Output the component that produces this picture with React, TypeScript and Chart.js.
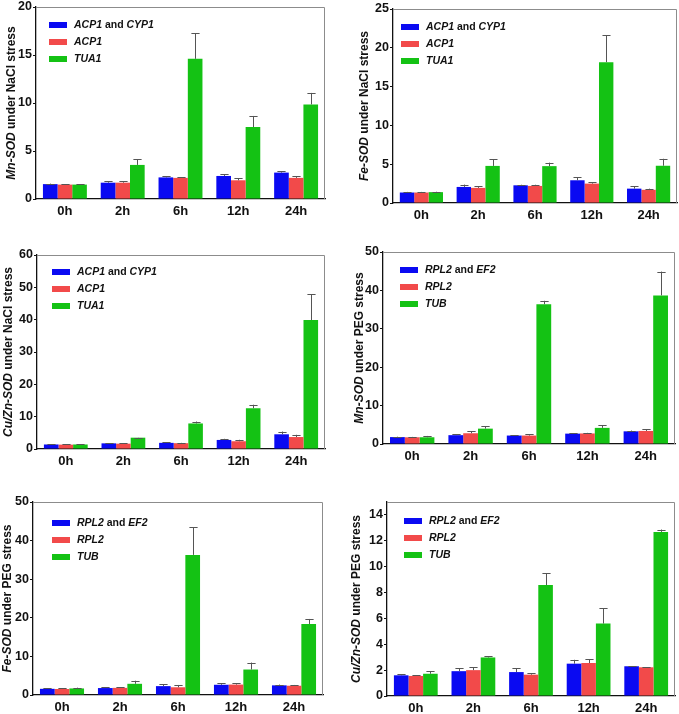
import React, { useEffect, useRef } from "react";
import { Chart, registerables } from "chart.js";
Chart.register(...registerables);

const timePoints = ["0h", "2h", "6h", "12h", "24h"];

// Panel A: Mn-SOD under NaCl stress
const mnNaClBoth = [1.55, 1.7, 2.25, 2.4, 2.75];
const mnNaClBothErr = [0.05, 0.15, 0.1, 0.2, 0.12];
const mnNaClACP1 = [1.5, 1.7, 2.2, 1.95, 2.2];
const mnNaClACP1Err = [0.04, 0.15, 0.06, 0.2, 0.15];
const mnNaClTUA1 = [1.5, 3.55, 14.6, 7.5, 9.85];
const mnNaClTUA1Err = [0.02, 0.6, 2.65, 1.15, 1.2];

// Panel B: Fe-SOD under NaCl stress
const feNaClBoth = [1.35, 2.07, 2.28, 2.93, 1.85];
const feNaClBothErr = [0.08, 0.3, 0.07, 0.4, 0.3];
const feNaClACP1 = [1.35, 1.95, 2.2, 2.5, 1.7];
const feNaClACP1Err = [0.08, 0.2, 0.15, 0.15, 0.15];
const feNaClTUA1 = [1.4, 4.78, 4.75, 18.15, 4.8];
const feNaClTUA1Err = [0.05, 0.87, 0.45, 3.45, 0.9];

// Panel C: Cu/Zn-SOD under NaCl stress
const cuNaClBoth = [1.4, 1.75, 1.9, 2.8, 4.55];
const cuNaClBothErr = [0.1, 0.1, 0.15, 0.35, 0.85];
const cuNaClACP1 = [1.35, 1.65, 1.8, 2.4, 3.7];
const cuNaClACP1Err = [0.1, 0.1, 0.1, 0.45, 0.7];
const cuNaClTUA1 = [1.4, 3.5, 7.9, 12.6, 39.9];
const cuNaClTUA1Err = [0.05, 0.05, 0.6, 1.1, 8.0];

// Panel D: Mn-SOD under PEG stress
const mnPEGBoth = [1.8, 2.3, 2.2, 2.7, 3.3];
const mnPEGBothErr = [0.1, 0.3, 0.1, 0.1, 0.2];
const mnPEGRPL2 = [1.75, 2.8, 2.2, 2.75, 3.4];
const mnPEGRPL2Err = [0.1, 0.5, 0.4, 0.15, 0.4];
const mnPEGTUB = [1.75, 4.0, 36.4, 4.2, 38.7];
const mnPEGTUBErr = [0.35, 0.6, 0.9, 0.7, 6.2];

// Panel E: Fe-SOD under PEG stress
const fePEGBoth = [1.6, 1.8, 2.3, 2.65, 2.5];
const fePEGBothErr = [0.15, 0.15, 0.5, 0.45, 0.2];
const fePEGRPL2 = [1.55, 1.85, 2.0, 2.7, 2.4];
const fePEGRPL2Err = [0.15, 0.2, 0.6, 0.4, 0.2];
const fePEGTUB = [1.7, 2.9, 36.3, 6.6, 18.4];
const fePEGTUBErr = [0.2, 0.8, 7.2, 1.8, 1.3];

// Panel F: Cu/Zn-SOD under PEG stress
const cuPEGBoth = [1.6, 1.92, 1.85, 2.5, 2.3];
const cuPEGBothErr = [0.08, 0.23, 0.3, 0.3, 0.02];
const cuPEGRPL2 = [1.55, 2.0, 1.65, 2.55, 2.22];
const cuPEGRPL2Err = [0.07, 0.22, 0.1, 0.3, 0.02];
const cuPEGTUB = [1.72, 2.98, 8.58, 5.6, 12.69];
const cuPEGTUBErr = [0.2, 0.1, 0.9, 1.17, 0.18];

const FONT = "'Liberation Sans', Arial, Helvetica, sans-serif";
const COLORS = ["#0a0af2", "#f24a4a", "#14c214"];

type Seg = { t: string; i: boolean };

const naclLegend: Seg[][] = [
  [{ t: "ACP1", i: true }, { t: " and ", i: false }, { t: "CYP1", i: true }],
  [{ t: "ACP1", i: true }],
  [{ t: "TUA1", i: true }],
];
const pegLegend: Seg[][] = [
  [{ t: "RPL2", i: true }, { t: " and ", i: false }, { t: "EF2", i: true }],
  [{ t: "RPL2", i: true }],
  [{ t: "TUB", i: true }],
];

type PanelCfg = {
  left: number; top: number; w: number; h: number;
  yW: number; xH: number; padTop: number; padRight: number;
  max: number; step: number;
  title: Seg[]; titleX: number;
  legend: Seg[][]; legDx: number; legDy: number;
  values: number[][]; errors: number[][];
};

const panels: PanelCfg[] = [
  {
    left: 0, top: 0, w: 340, h: 228, yW: 36, xH: 29, padTop: 7, padRight: 15,
    max: 20, step: 5,
    title: [{ t: "Mn-SOD", i: true }, { t: " under NaCl stress", i: false }], titleX: 12,
    legend: naclLegend, legDx: 13, legDy: 18,
    values: [mnNaClBoth, mnNaClACP1, mnNaClTUA1], errors: [mnNaClBothErr, mnNaClACP1Err, mnNaClTUA1Err],
  },
  {
    left: 340, top: 0, w: 339, h: 228, yW: 53, xH: 25, padTop: 9, padRight: 2,
    max: 25, step: 5,
    title: [{ t: "Fe-SOD", i: true }, { t: " under NaCl stress", i: false }], titleX: 25,
    legend: naclLegend, legDx: 8, legDy: 18,
    values: [feNaClBoth, feNaClACP1, feNaClTUA1], errors: [feNaClBothErr, feNaClACP1Err, feNaClTUA1Err],
  },
  {
    left: 0, top: 228, w: 340, h: 242, yW: 37, xH: 21, padTop: 27, padRight: 15,
    max: 60, step: 10,
    title: [{ t: "Cu/Zn-SOD", i: true }, { t: " under NaCl stress", i: false }], titleX: 9,
    legend: naclLegend, legDx: 15, legDy: 17,
    values: [cuNaClBoth, cuNaClACP1, cuNaClTUA1], errors: [cuNaClBothErr, cuNaClACP1Err, cuNaClTUA1Err],
  },
  {
    left: 340, top: 228, w: 339, h: 242, yW: 43, xH: 26, padTop: 24, padRight: 4,
    max: 50, step: 10,
    title: [{ t: "Mn-SOD", i: true }, { t: " under PEG stress", i: false }], titleX: 20,
    legend: pegLegend, legDx: 17, legDy: 18,
    values: [mnPEGBoth, mnPEGRPL2, mnPEGTUB], errors: [mnPEGBothErr, mnPEGRPL2Err, mnPEGTUBErr],
  },
  {
    left: 0, top: 470, w: 340, h: 244, yW: 33, xH: 19, padTop: 32, padRight: 17,
    max: 50, step: 10,
    title: [{ t: "Fe-SOD", i: true }, { t: " under PEG stress", i: false }], titleX: 8,
    legend: pegLegend, legDx: 19, legDy: 21,
    values: [fePEGBoth, fePEGRPL2, fePEGTUB], errors: [fePEGBothErr, fePEGRPL2Err, fePEGTUBErr],
  },
  {
    left: 340, top: 470, w: 339, h: 244, yW: 47, xH: 18, padTop: 32, padRight: 4,
    max: 15, step: 2,
    title: [{ t: "Cu/Zn-SOD", i: true }, { t: " under PEG stress", i: false }], titleX: 17,
    legend: pegLegend, legDx: 17, legDy: 19,
    values: [cuPEGBoth, cuPEGRPL2, cuPEGTUB], errors: [cuPEGBothErr, cuPEGRPL2Err, cuPEGTUBErr],
  },
];

function fontFor(s: Seg, size: number) {
  return `${s.i ? "italic " : ""}bold ${size}px ${FONT}`;
}

function drawSegs(ctx: CanvasRenderingContext2D, segs: Seg[], x: number, y: number, size: number, center: boolean) {
  const ws = segs.map((s) => {
    ctx.font = fontFor(s, size);
    return ctx.measureText(s.t).width;
  });
  const total = ws.reduce((a, b) => a + b, 0);
  let cx = center ? x - total / 2 : x;
  ctx.textAlign = "left";
  ctx.textBaseline = "middle";
  segs.forEach((s, k) => {
    ctx.font = fontFor(s, size);
    ctx.fillText(s.t, cx, y);
    cx += ws[k];
  });
}

function makeDecor(p: PanelCfg) {
  return {
    id: "decor",
    beforeDatasetsDraw(chart: any) {
      const { ctx, chartArea } = chart;
      ctx.save();
      ctx.strokeStyle = "#8c8c8c";
      ctx.lineWidth = 1;
      ctx.beginPath();
      ctx.moveTo(chartArea.left, chartArea.top + 0.5);
      ctx.lineTo(chartArea.right - 0.5, chartArea.top + 0.5);
      ctx.lineTo(chartArea.right - 0.5, chartArea.bottom);
      ctx.stroke();
      ctx.restore();
    },
    afterDatasetsDraw(chart: any) {
      const { ctx } = chart;
      const yScale = chart.scales.y;
      ctx.save();
      ctx.strokeStyle = "#555";
      ctx.lineWidth = 1;
      chart.data.datasets.forEach((ds: any, di: number) => {
        const meta = chart.getDatasetMeta(di);
        const errs = p.errors[di];
        meta.data.forEach((el: any, i: number) => {
          const v = p.values[di][i];
          const e = errs[i];
          const yTop = yScale.getPixelForValue(v + e);
          const yBar = yScale.getPixelForValue(v);
          const x = Math.round(el.x) + 0.5;
          const cap = el.width * 0.28;
          ctx.beginPath();
          ctx.moveTo(x, yBar);
          ctx.lineTo(x, yTop);
          ctx.moveTo(x - cap, Math.round(yTop) + 0.5);
          ctx.lineTo(x + cap, Math.round(yTop) + 0.5);
          ctx.stroke();
        });
      });
      ctx.restore();
    },
    afterDraw(chart: any) {
      const { ctx, chartArea } = chart;
      ctx.save();
      ctx.fillStyle = "#111";
      ctx.translate(p.titleX, (chartArea.top + chartArea.bottom) / 2);
      ctx.rotate(-Math.PI / 2);
      drawSegs(ctx, p.title, 0, 0, 12, true);
      ctx.restore();
      ctx.save();
      const bx = chartArea.left + p.legDx;
      p.legend.forEach((segs, k) => {
        const cy = chartArea.top + p.legDy + k * 17;
        ctx.fillStyle = COLORS[k];
        ctx.fillRect(bx, cy - 3, 18, 6);
        ctx.fillStyle = "#111";
        drawSegs(ctx, segs, bx + 25, cy, 10.5, false);
      });
      ctx.restore();
    },
  };
}

function Panel({ p }: { p: PanelCfg }) {
  const ref = useRef<HTMLCanvasElement | null>(null);
  useEffect(() => {
    if (!ref.current) return;
    const chart = new Chart(ref.current, {
      type: "bar",
      data: {
        labels: timePoints,
        datasets: p.values.map((vals, k) => ({
          label: p.legend[k].map((s) => s.t).join(""),
          data: vals,
          backgroundColor: COLORS[k],
          borderWidth: 0,
          categoryPercentage: 0.76,
          barPercentage: 1.0,
        })),
      },
      options: {
        responsive: false,
        animation: false,
        devicePixelRatio: 1,
        layout: { padding: { top: p.padTop, right: p.padRight, bottom: 0, left: 0 } },
        plugins: {
          legend: { display: false },
          tooltip: { enabled: false },
          title: { display: false },
        },
        scales: {
          x: {
            grid: { display: false, drawTicks: false, tickLength: 0 },
            border: { display: true, color: "#111", width: 1.3 },
            ticks: {
              color: "#111",
              font: { family: FONT, size: 13, weight: "bold" },
              padding: 5,
              maxRotation: 0,
              autoSkip: false,
            },
            afterFit: (s: any) => {
              s.height = p.xH;
              s.paddingLeft = 0;
              s.paddingRight = 0;
            },
          },
          y: {
            min: 0,
            max: p.max,
            grid: { drawOnChartArea: false, drawTicks: true, tickLength: 3, color: "#111" },
            border: { display: true, color: "#111", width: 1.3 },
            ticks: {
              stepSize: p.step,
              includeBounds: false,
              color: "#111",
              font: { family: FONT, size: 12.5, weight: "bold" },
              padding: 1,
            },
            afterFit: (s: any) => {
              s.width = p.yW;
              s.paddingTop = 0;
              s.paddingBottom = 0;
            },
          },
        },
      } as any,
      plugins: [makeDecor(p)],
    });
    return () => chart.destroy();
  }, [p]);
  return (
    <canvas
      ref={ref}
      width={p.w}
      height={p.h}
      style={{ position: "absolute", left: p.left, top: p.top, width: p.w, height: p.h }}
    />
  );
}

export default function App() {
  return (
    <div style={{ position: "absolute", left: 0, top: 0, width: 679, height: 714, background: "#fff", overflow: "hidden" }}>
      {panels.map((p, i) => (
        <Panel key={i} p={p} />
      ))}
    </div>
  );
}
